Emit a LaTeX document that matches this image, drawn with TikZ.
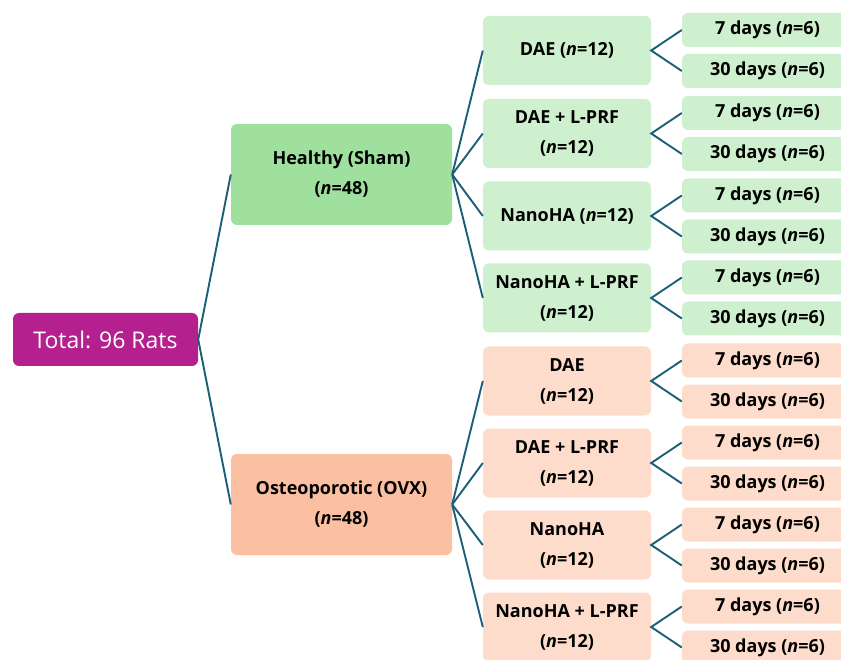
\documentclass[tikz,border=0pt]{standalone}
\usepackage{fontspec}
\setmainfont{Open Sans}
\definecolor{rootc}{HTML}{B4218F}
\definecolor{healthyc}{HTML}{9FE09F}
\definecolor{greenl}{HTML}{CFF0CF}
\definecolor{ovxc}{HTML}{FBBFA2}
\definecolor{orangel}{HTML}{FDDCCB}
\definecolor{linec}{HTML}{1A5E78}
\tikzset{
  box/.style={rounded corners=6pt, inner sep=0pt, align=center, text=black},
  rootbox/.style={box, fill=rootc, text=white, minimum width=185pt, minimum height=53pt, font={\fontsize{23}{28}\selectfont}},
  groupbox/.style={box, minimum width=221pt, minimum height=101pt, font={\bfseries\fontsize{18}{30}\selectfont}},
  midbox/.style={box, minimum width=168pt, minimum height=69pt, font={\bfseries\fontsize{18}{30}\selectfont}},
  leafbox/.style={box, minimum width=171pt, minimum height=34pt, font={\bfseries\fontsize{18}{20}\selectfont}},
  conn/.style={draw=linec, line width=1.9pt},
}
\begin{document}
\begin{tikzpicture}[x=1pt,y=-1pt]
\clip (0,0) rectangle (841,660);
\fill[white] (0,0) rectangle (841,660);
\node[rootbox] (root) at (105.5,339.5) {Total: 96 Rats};
\node[groupbox, fill=healthyc] (hs) at (341.5,174.5) {Healthy (Sham)\\(\textit{n}=48)};
\node[groupbox, fill=ovxc] (ovx) at (341.5,504.5) {Osteoporotic (OVX)\\(\textit{n}=48)};
% green mids
\node[midbox, fill=greenl] (g1) at (567,50.5) {DAE (\textit{n}=12)};
\node[midbox, fill=greenl] (g2) at (567,133.5) {DAE + L-PRF\\(\textit{n}=12)};
\node[midbox, fill=greenl] (g3) at (567,216) {NanoHA (\textit{n}=12)};
\node[midbox, fill=greenl] (g4) at (567,298) {NanoHA + L-PRF\\(\textit{n}=12)};
% orange mids
\node[midbox, fill=orangel] (o1) at (567,381) {DAE\\(\textit{n}=12)};
\node[midbox, fill=orangel] (o2) at (567,463) {DAE + L-PRF\\(\textit{n}=12)};
\node[midbox, fill=orangel] (o3) at (567,545) {NanoHA\\(\textit{n}=12)};
\node[midbox, fill=orangel] (o4) at (567,627) {NanoHA + L-PRF\\(\textit{n}=12)};
% leaves
\foreach \m/\c/\y in {g1/greenl/50.5, g2/greenl/133.5, g3/greenl/216, g4/greenl/298, o1/orangel/381, o2/orangel/463, o3/orangel/545, o4/orangel/627}{
  \node[leafbox, fill=\c] (\m a) at (767.5,\y-20.5) {7 days (\textit{n}=6)};
  \node[leafbox, fill=\c] (\m b) at (767.5,\y+20.5) {30 days (\textit{n}=6)};
  \draw[conn] (\m a.west) -- (\m.east) -- (\m b.west);
}
% connectors
\draw[conn] (hs.west) -- (root.east) -- (ovx.west);
\foreach \m in {g1,g2,g3,g4}{\draw[conn] (hs.east) -- (\m.west);}
\foreach \m in {o1,o2,o3,o4}{\draw[conn] (ovx.east) -- (\m.west);}
\end{tikzpicture}
\end{document}
